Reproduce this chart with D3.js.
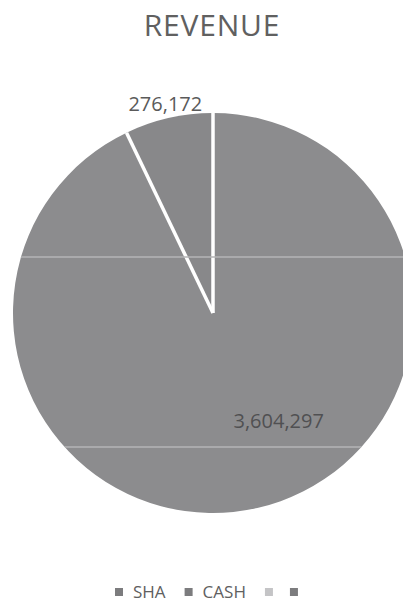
<!DOCTYPE html>
<html>
<head>
<meta charset="utf-8">
<script src="https://cdn.jsdelivr.net/npm/d3@7"></script>
<style>
  html, body { margin: 0; padding: 0; background: #ffffff; }
  svg { display: block; }
  text { font-family: "Open Sans", "Liberation Sans", sans-serif; }
</style>
</head>
<body>
<svg id="chart" width="403" height="604"></svg>
<script>
// ---- data ----
const title = "REVENUE";
const categories = ["SHA", "CASH"];
const values = [3604297, 276172];
const legendLabels = ["SHA", "CASH", "", ""];

// ---- styles ----
const sliceColors = ["#8c8c8e", "#88888a"];
const legendColors = ["#7c7c7e", "#7c7c7e", "#c4c4c6", "#7c7c7e"];

const W = 403, H = 604;
const cx = 213, cy = 313, R = 200;

const svg = d3.select("#chart");

svg.append("text")
  .attr("x", 212).attr("y", 36)
  .attr("text-anchor", "middle")
  .attr("font-size", 30)
  .attr("letter-spacing", 0.8)
  .attr("fill", "#606060")
  .text(title);

const data = categories.map((c, i) => ({ cat: c, value: values[i] }));
const pie = d3.pie().value(d => d.value).sort(null);
const arcs = pie(data);
const arc = d3.arc().innerRadius(0).outerRadius(R);

const g = svg.append("g").attr("transform", `translate(${cx},${cy})`);

svg.append("clipPath").attr("id", "pieclip")
  .append("circle").attr("cx", cx).attr("cy", cy).attr("r", R);

g.selectAll("path.slice")
  .data(arcs)
  .join("path")
  .attr("class", "slice")
  .attr("d", arc)
  .attr("fill", (d, i) => sliceColors[i]);

// faint horizontal scan artifacts across the pie
const scan = svg.append("g").attr("clip-path", "url(#pieclip)");
[cy - 56, cy + 134].forEach(y => {
  scan.append("line")
    .attr("x1", 0).attr("x2", W)
    .attr("y1", y).attr("y2", y)
    .attr("stroke", "#b4b4b6").attr("stroke-width", 1.6);
});

// white separators at slice boundaries
const boundaries = arcs.map(d => d.startAngle);
g.selectAll("line.sep")
  .data(boundaries)
  .join("line")
  .attr("class", "sep")
  .attr("x1", 0).attr("y1", 0)
  .attr("x2", a => R * Math.sin(a))
  .attr("y2", a => -R * Math.cos(a))
  .attr("stroke", "#ffffff")
  .attr("stroke-width", 3.5);

// data labels
const fmt = d3.format(",");
const labelPlacement = [
  { r: 126, offset: -0.325, color: "#505052" },
  { r: 215, offset: 0, color: "#5a5a5a" }
];
g.selectAll("text.lbl")
  .data(arcs)
  .join("text")
  .attr("class", "lbl")
  .attr("text-anchor", "middle")
  .attr("dominant-baseline", "central")
  .attr("font-size", 20)
  .attr("fill", (d, i) => labelPlacement[i].color)
  .attr("x", (d, i) => {
    const a = (d.startAngle + d.endAngle) / 2 + labelPlacement[i].offset;
    return labelPlacement[i].r * Math.sin(a);
  })
  .attr("y", (d, i) => {
    const a = (d.startAngle + d.endAngle) / 2 + labelPlacement[i].offset;
    return -labelPlacement[i].r * Math.cos(a);
  })
  .text(d => fmt(d.data.value));

// legend
const legend = svg.append("g");
let x = 115;
const ly = 598;
legendLabels.forEach((lab, i) => {
  legend.append("rect")
    .attr("x", x).attr("y", ly - 10)
    .attr("width", 8).attr("height", 8)
    .attr("fill", legendColors[i]);
  x += 8 + 10;
  if (lab) {
    const t = legend.append("text")
      .attr("x", x).attr("y", ly)
      .attr("font-size", 17)
      .attr("fill", "#606060")
      .text(lab);
    x += t.node().getComputedTextLength() + 19;
  } else {
    x += 7;
  }
});
</script>
</body>
</html>
